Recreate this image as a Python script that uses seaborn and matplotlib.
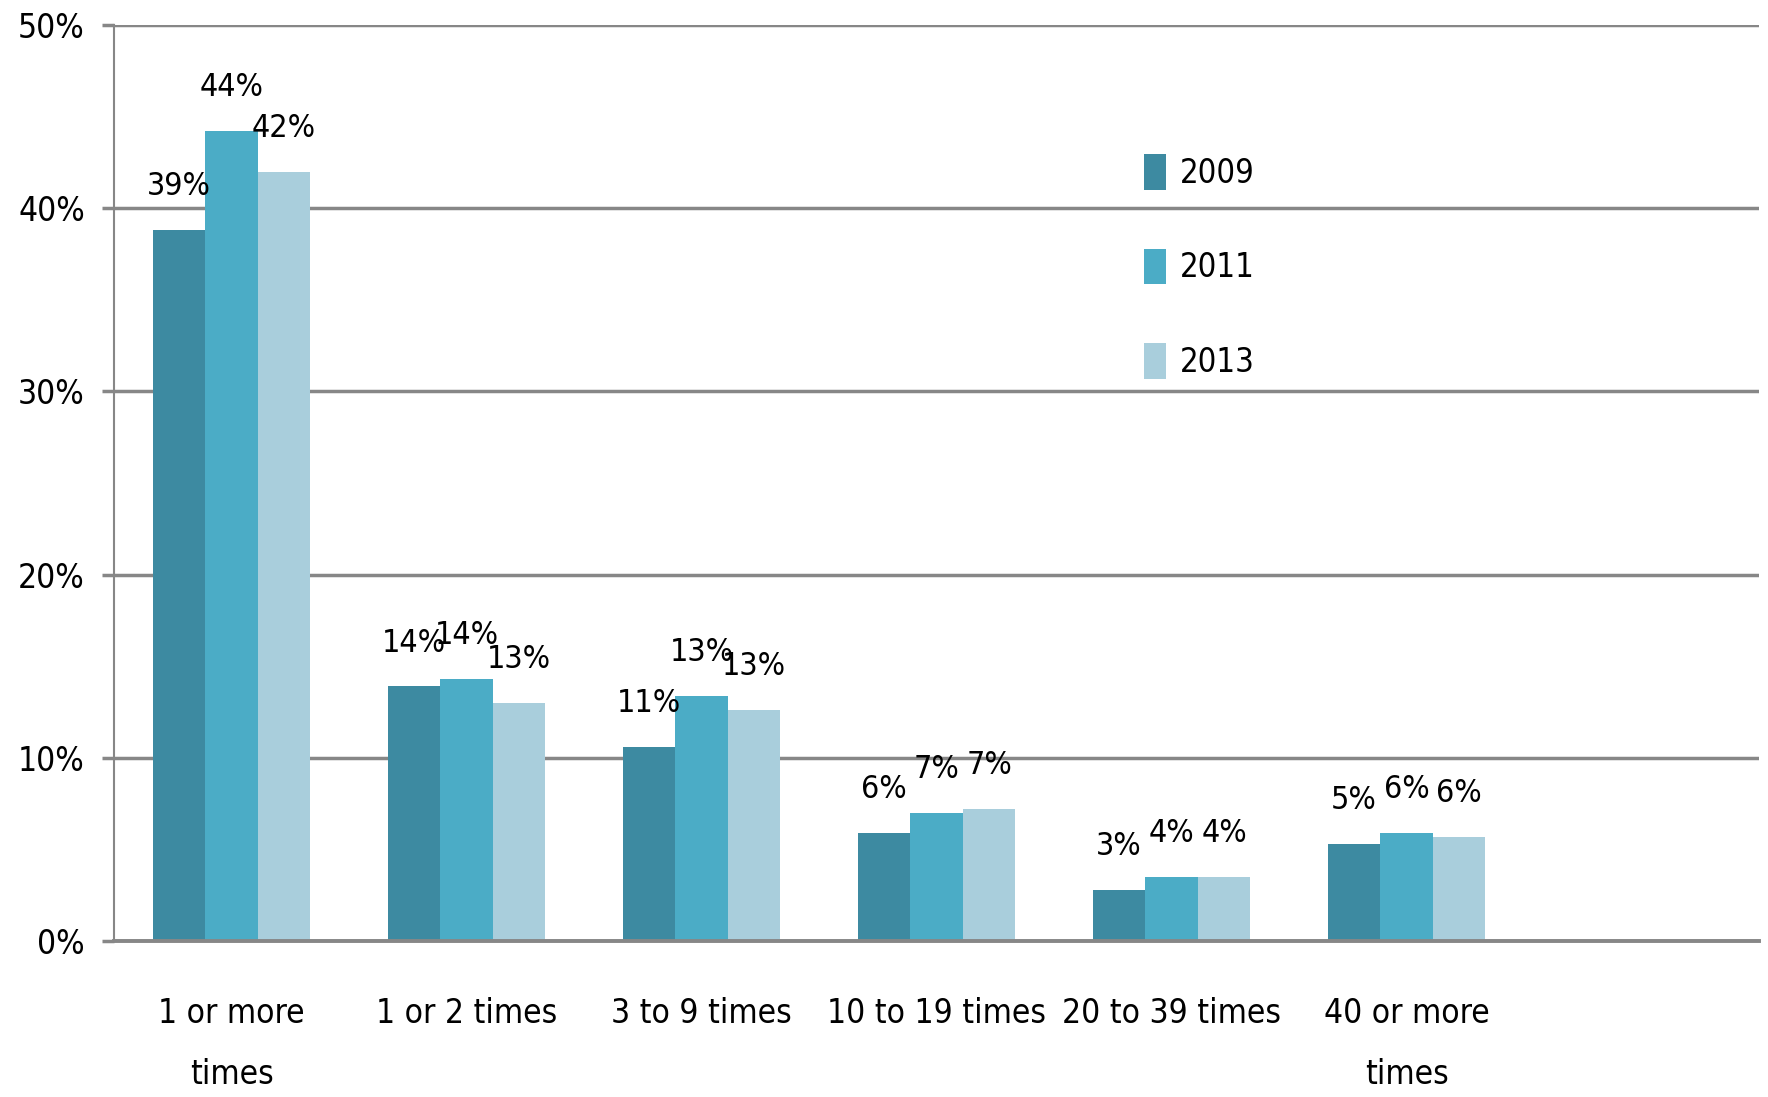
import numpy as np
import pandas as pd
import matplotlib
matplotlib.use("Agg")
import matplotlib.pyplot as plt
import seaborn as sns
from matplotlib.ticker import FixedLocator, PercentFormatter

categories = ["1 or more\ntimes", "1 or 2 times", "3 to 9 times", "10 to 19 times",
              "20 to 39 times", "40 or more\ntimes"]
years = ["2009", "2011", "2013"]
vals_2009 = [38.8, 13.9, 10.6, 5.9, 2.8, 5.3]
vals_2011 = [44.2, 14.3, 13.4, 7.0, 3.5, 5.9]
vals_2013 = [42.0, 13.0, 12.6, 7.2, 3.5, 5.7]
labels_2009 = ["39%", "14%", "11%", "6%", "3%", "5%"]
labels_2011 = ["44%", "14%", "13%", "7%", "4%", "6%"]
labels_2013 = ["42%", "13%", "13%", "7%", "4%", "6%"]
colors = ["#3D8AA1", "#4BACC6", "#A9CEDC"]

df = pd.DataFrame({
    "category": categories * 3,
    "year": [y for y in years for _ in categories],
    "value": vals_2009 + vals_2011 + vals_2013,
})

sns.set_style("white")
plt.rcParams["font.family"] = ["DejaVu Sans"]
plt.rcParams["font.stretch"] = "condensed"
plt.rcParams["text.color"] = "black"
plt.rcParams["xtick.labelcolor"] = "black"
plt.rcParams["ytick.labelcolor"] = "black"
grid_col = "#878787"

fig = plt.figure(figsize=(17.68, 10.97), dpi=100)
ax = fig.add_axes([0.0645, 0.1422, 0.9305, 0.835])

sns.barplot(data=df, x="category", y="value", hue="year", order=categories,
            hue_order=years, palette=colors, width=0.67, saturation=1,
            linewidth=0, ax=ax, zorder=3)

for cont, labs in zip(ax.containers, [labels_2009, labels_2011, labels_2013]):
    ax.bar_label(cont, labels=labs, padding=20, fontsize=23, color="black")

ax.set_xlim(-0.5, 6.5)
ax.set_ylim(0, 50)
ax.set_yticks(np.arange(0, 51, 10))
ax.yaxis.set_major_formatter(PercentFormatter(decimals=0))
ax.grid(axis="y", color=grid_col, linewidth=2.5, zorder=0)
ax.set_axisbelow(True)

for s in ["top", "right"]:
    ax.spines[s].set_visible(False)
ax.spines["left"].set_color(grid_col)
ax.spines["left"].set_linewidth(1.5)
ax.spines["bottom"].set_color(grid_col)
ax.spines["bottom"].set_linewidth(2.8)
ax.spines["bottom"].set_zorder(4)

ax.xaxis.set_minor_locator(FixedLocator(np.arange(-0.5, 6.6, 1)))
ax.tick_params(axis="x", which="major", length=0, pad=40, labelsize=24)
ax.tick_params(axis="x", which="minor", length=13, width=1.3, color=grid_col, direction="out")
ax.tick_params(axis="y", which="major", length=9, width=2.5, color=grid_col,
               direction="out", labelsize=24, pad=12, left=True)
for t in ax.get_xticklabels():
    t.set_linespacing(2.1)
    t.set_verticalalignment("top")

ax.set_xlabel("")
ax.set_ylabel("")

handles, lbls = ax.get_legend_handles_labels()
ax.get_legend().remove()
fig.legend(handles, lbls, loc="center left", bbox_to_anchor=(0.638, 0.757),
           frameon=False, fontsize=23.5, labelspacing=1.8, handlelength=0.65,
           handleheight=1.3, handletextpad=0.45, borderpad=0)

fig.savefig("out.png", dpi=100)
